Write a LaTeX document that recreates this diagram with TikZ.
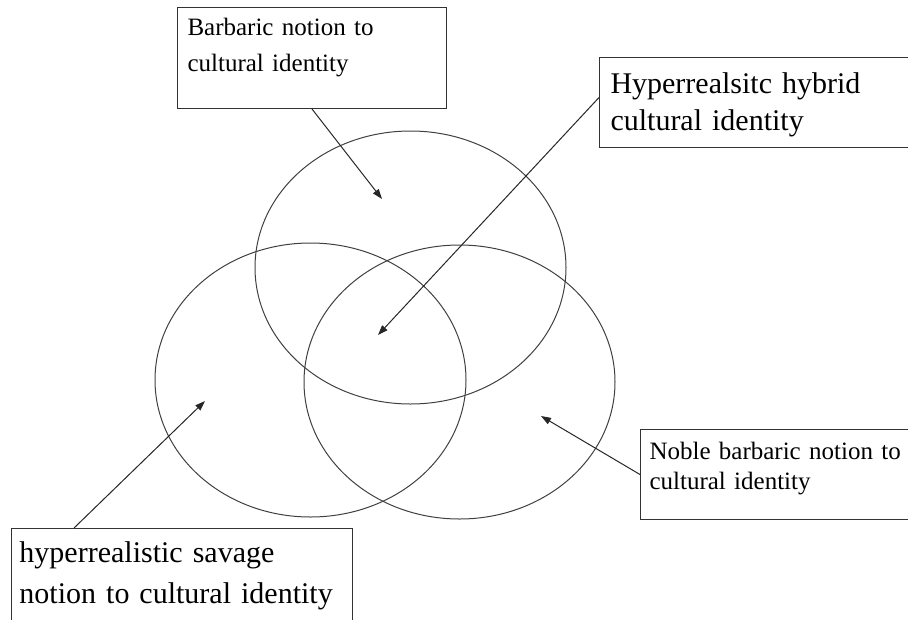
\documentclass[tikz,border=0pt]{standalone}
\usepackage{fontspec}
\setmainfont{Liberation Serif}
\usetikzlibrary{arrows.meta}
\tikzset{
  notebox/.style={draw=black!80, line width=1pt, anchor=north west, inner ysep=0pt, align=left},
  ring/.style={draw=black!75, line width=1pt},
  pointer/.style={draw=black!85, line width=1pt, -{Triangle[length=10pt,width=7pt]}}
}
\begin{document}
\begin{tikzpicture}[x=1pt,y=-1pt]
	\useasboundingbox (0,0) rectangle (908,619);
	% the three circles
	\draw[ring] (410.5,267.5) ellipse [x radius=155.5pt, y radius=136.5pt];
	\draw[ring] (310.5,380) ellipse [x radius=155.5pt, y radius=137pt];
	\draw[ring] (459.5,382) ellipse [x radius=155.5pt, y radius=137pt];
	% labels
	\node[notebox, inner xsep=10pt, text width=249pt, text height=28pt, text depth=73pt, font=\fontsize{25pt}{36pt}\selectfont] (barbaric) at (177,7) {Barbaric notion to\\cultural identity};
	\node[notebox, inner xsep=11pt, text width=330pt, text height=36pt, text depth=54pt, font=\fontsize{30pt}{37pt}\selectfont] (hybrid) at (599,57) {Hyperrealsitc hybrid\\cultural identity};
	\node[notebox, inner xsep=9pt, text width=252pt, text height=30pt, text depth=60pt, font=\fontsize{25pt}{30pt}\selectfont] (noble) at (640,429) {Noble barbaric notion to\\cultural identity};
	\node[notebox, inner xsep=8pt, text width=325pt, text height=34pt, text depth=100pt, font=\fontsize{30pt}{41pt}\selectfont] (savage) at (11,528) {hyperrealistic savage\\notion to cultural identity};
	% arrow tips
	\coordinate (barbaricTip) at (382,199);
	\coordinate (hybridTip) at (378,335);
	\coordinate (nobleTip) at (541,416);
	\coordinate (savageTip) at (205,401);
	\draw[pointer] (barbaric.south) -- (barbaricTip);
	\draw[pointer] ([yshift=5pt]hybrid.west) -- (hybridTip);
	\draw[pointer] (noble.west) -- (nobleTip);
	\draw[pointer] ([xshift=63pt]savage.north west) -- (savageTip);
\end{tikzpicture}
\end{document}
